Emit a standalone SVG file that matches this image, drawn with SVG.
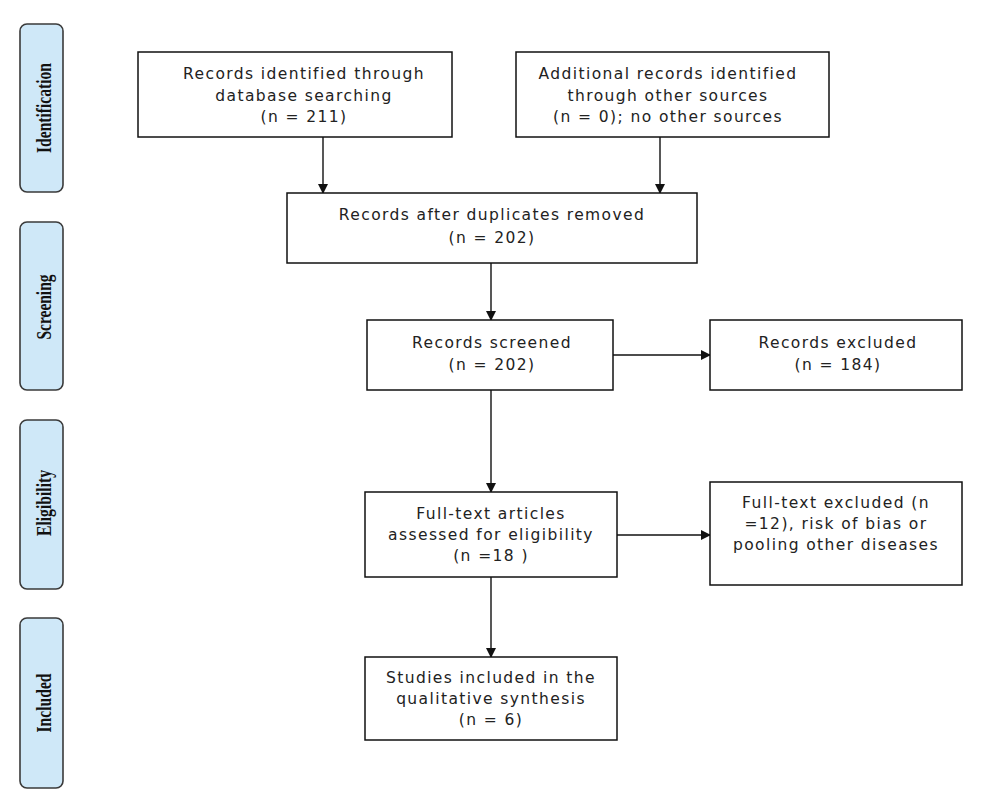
<svg xmlns="http://www.w3.org/2000/svg" width="986" height="808" viewBox="0 0 986 808">
<style>
.box{fill:#fff;stroke:#111;stroke-width:1.5}
.phase{fill:#cfe8f8;stroke:#3a3a3a;stroke-width:1.6}
.t{font-family:"DejaVu Sans","Liberation Sans",sans-serif;font-size:15.5px;letter-spacing:1.4px;fill:#222;text-anchor:middle}
.p{font-family:"Liberation Serif","DejaVu Serif",serif;font-weight:bold;font-size:21px;fill:#111;text-anchor:middle}
.c{stroke:#111;stroke-width:1.4;fill:none;marker-end:url(#ah)}
</style>
<defs>
<marker id="ah" markerWidth="10" markerHeight="10" refX="9" refY="5" orient="auto" markerUnits="userSpaceOnUse">
<path d="M0,0 L10,5 L0,10 z" fill="#111"/>
</marker>
</defs>
<rect width="986" height="808" fill="#fff"/>
<g id="phase-identification"><rect class="phase" x="20" y="24" width="43" height="168" rx="7"/><text class="p" transform="translate(51,108) rotate(-90)" textLength="90" lengthAdjust="spacingAndGlyphs">Identification</text></g>
<g id="phase-screening"><rect class="phase" x="20" y="222" width="43" height="168" rx="7"/><text class="p" transform="translate(51,307) rotate(-90)" textLength="65" lengthAdjust="spacingAndGlyphs">Screening</text></g>
<g id="phase-eligibility"><rect class="phase" x="20" y="420" width="43" height="169" rx="7"/><text class="p" transform="translate(51,503) rotate(-90)" textLength="66" lengthAdjust="spacingAndGlyphs">Eligibility</text></g>
<g id="phase-included"><rect class="phase" x="20" y="618" width="43" height="170" rx="7"/><text class="p" transform="translate(51,703) rotate(-90)" textLength="59" lengthAdjust="spacingAndGlyphs">Included</text></g>

<g id="connectors">
<line class="c" x1="323" y1="137" x2="323" y2="193"/>
<line class="c" x1="660" y1="137" x2="660" y2="193"/>
<line class="c" x1="491" y1="263" x2="491" y2="320"/>
<line class="c" x1="491" y1="390" x2="491" y2="492"/>
<line class="c" x1="613" y1="355" x2="710" y2="355"/>
<line class="c" x1="617" y1="535" x2="710" y2="535"/>
<line class="c" x1="491" y1="577" x2="491" y2="657"/>
</g>

<g id="n1"><rect class="box" x="138" y="52" width="314" height="85"/>
<text class="t" x="304" y="79">Records identified through</text>
<text class="t" x="304" y="101">database searching</text>
<text class="t" x="304" y="122">(n = 211)</text></g>
<g id="n2"><rect class="box" x="516" y="52" width="313" height="85"/>
<text class="t" x="668" y="79">Additional records identified</text>
<text class="t" x="668" y="101">through other sources</text>
<text class="t" x="668" y="122">(n = 0); no other sources</text></g>
<g id="n3"><rect class="box" x="287" y="193" width="410" height="70"/>
<text class="t" x="492" y="220">Records after duplicates removed</text>
<text class="t" x="492" y="243">(n = 202)</text></g>
<g id="n4"><rect class="box" x="367" y="320" width="246" height="70"/>
<text class="t" x="492" y="348">Records screened</text>
<text class="t" x="492" y="370">(n = 202)</text></g>
<g id="n5"><rect class="box" x="710" y="320" width="252" height="70"/>
<text class="t" x="838" y="348">Records excluded</text>
<text class="t" x="838" y="370">(n = 184)</text></g>
<g id="n6"><rect class="box" x="365" y="492" width="252" height="85"/>
<text class="t" x="491" y="519">Full-text articles</text>
<text class="t" x="491" y="540">assessed for eligibility</text>
<text class="t" x="491" y="561">(n =18 )</text></g>
<g id="n7"><rect class="box" x="710" y="482" width="252" height="103"/>
<text class="t" x="836" y="508">Full-text excluded (n</text>
<text class="t" x="836" y="529">=12), risk of bias or</text>
<text class="t" x="836" y="550">pooling other diseases</text></g>
<g id="n8"><rect class="box" x="365" y="657" width="252" height="83"/>
<text class="t" x="491" y="683">Studies included in the</text>
<text class="t" x="491" y="704">qualitative synthesis</text>
<text class="t" x="491" y="725">(n = 6)</text></g>
</svg>
